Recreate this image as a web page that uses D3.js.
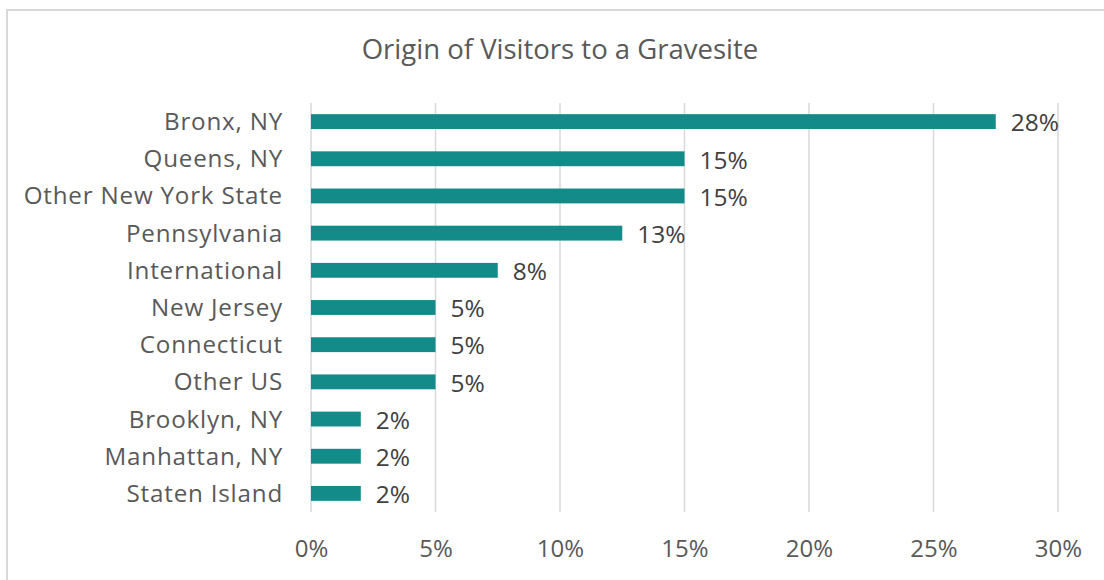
<!DOCTYPE html>
<html>
<head>
<meta charset="utf-8">
<script src="https://cdn.jsdelivr.net/npm/d3@7"></script>
<style>
  html, body { margin: 0; padding: 0; background: #ffffff; }
  svg { display: block; }
  text { font-family: "Open Sans", "Noto Sans", sans-serif; }
</style>
</head>
<body>
<svg id="chart" width="1104" height="580"></svg>
<script>
// Share of visitors by place of origin (percent)
const categories = [
  "Bronx, NY", "Queens, NY", "Other New York State", "Pennsylvania",
  "International", "New Jersey", "Connecticut", "Other US",
  "Brooklyn, NY", "Manhattan, NY", "Staten Island"
];
const values = [27.5, 15, 15, 12.5, 7.5, 5, 5, 5, 2, 2, 2];
const xTicks = [0, 5, 10, 15, 20, 25, 30];
const title = "Origin of Visitors to a Gravesite";

const svg = d3.select("#chart");
const W = 1104, H = 580;
const FONT = "'Open Sans', 'Noto Sans', sans-serif";

// chart frame
svg.append("rect")
  .attr("x", 7).attr("y", 10)
  .attr("width", W).attr("height", H)
  .attr("fill", "#ffffff")
  .attr("stroke", "#d9d9d9").attr("stroke-width", 2);

const plot = { left: 311, right: 1058, top: 103, bottom: 512 };

const x = d3.scaleLinear().domain([0, 30]).range([plot.left, plot.right]);
const y = d3.scaleBand().domain(categories).range([plot.top, plot.bottom])
  .paddingInner(0.6).paddingOuter(0.3);

// title
svg.append("text")
  .attr("x", 560).attr("y", 59)
  .attr("text-anchor", "middle")
  .attr("fill", "#595959")
  .attr("font-size", 27.5)
  .text(title);

// vertical gridlines
svg.append("g").selectAll("line")
  .data(xTicks)
  .join("line")
  .attr("x1", d => x(d)).attr("x2", d => x(d))
  .attr("y1", plot.top).attr("y2", plot.bottom)
  .attr("stroke", "#d9d9d9").attr("stroke-width", 1.5);

// x axis labels
const xAxis = d3.axisBottom(x).tickValues(xTicks).tickSize(0).tickPadding(0)
  .tickFormat(d => d + "%");
const gx = svg.append("g").attr("transform", `translate(0,${plot.bottom})`).call(xAxis);
gx.select(".domain").remove();
gx.selectAll("text")
  .attr("dy", null).attr("y", 45)
  .attr("fill", "#595959")
  .attr("font-size", 24)
  .attr("font-family", FONT);

// category axis labels
const yAxis = d3.axisLeft(y).tickSize(0).tickPadding(28);
const gy = svg.append("g").attr("transform", `translate(${plot.left},0)`).call(yAxis);
gy.select(".domain").remove();
gy.selectAll("text")
  .attr("dy", "0.35em")
  .attr("fill", "#595959")
  .attr("font-size", 24.2)
  .attr("letter-spacing", 0.8)
  .attr("font-family", FONT);

// bars
svg.append("g").selectAll("rect")
  .data(values)
  .join("rect")
  .attr("x", x(0))
  .attr("y", (d, i) => y(categories[i]))
  .attr("width", d => x(d) - x(0))
  .attr("height", y.bandwidth())
  .attr("fill", "#138b89");

// value labels
svg.append("g").selectAll("text")
  .data(values)
  .join("text")
  .attr("x", d => x(d) + 15)
  .attr("y", (d, i) => y(categories[i]) + y.bandwidth() / 2)
  .attr("dy", "0.4em")
  .attr("fill", "#404040")
  .attr("font-size", 24.5)
  .text(d => Math.round(d) + "%");
</script>
</body>
</html>
